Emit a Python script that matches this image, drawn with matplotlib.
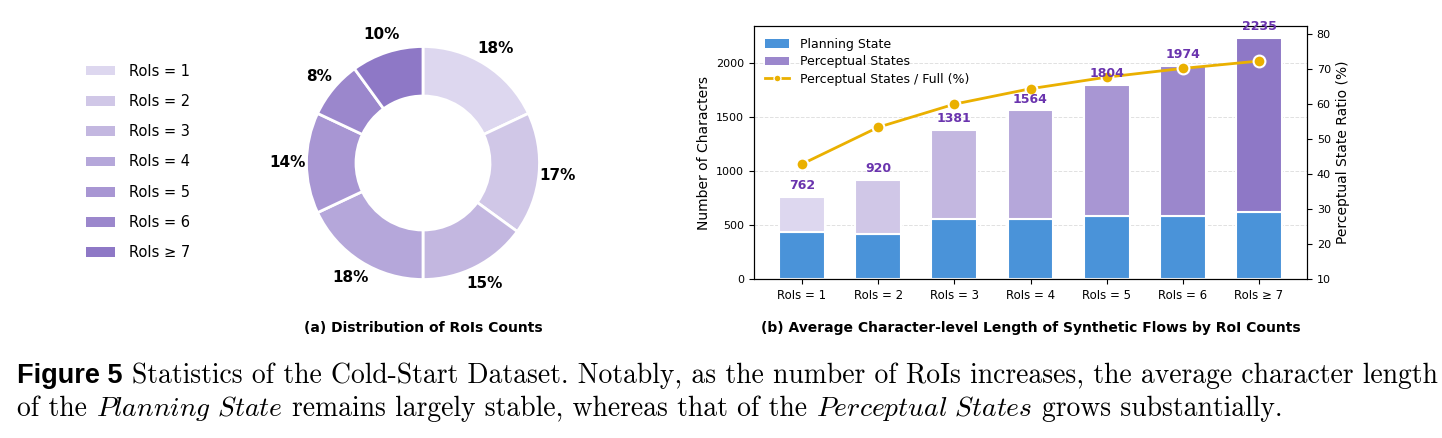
import matplotlib
matplotlib.use("Agg")
import matplotlib.pyplot as plt
from matplotlib.patches import Patch
from matplotlib.lines import Line2D
import numpy as np

# ---------------- data ----------------
roi_labels = ["RoIs = 1", "RoIs = 2", "RoIs = 3", "RoIs = 4", "RoIs = 5", "RoIs = 6", "RoIs \u2265 7"]
roi_share = [18, 17, 15, 18, 14, 8, 10]
planning_chars = [435, 422, 558, 555, 583, 589, 626]
total_chars = [762, 920, 1381, 1564, 1804, 1974, 2235]
perceptual_ratio = [42.8, 53.3, 59.9, 64.3, 67.6, 70.1, 72.2]

purples = ["#DDD7EF", "#D0C7E7", "#C3B7E0", "#B5A7DA", "#A896D3", "#9B87CC", "#8E78C6"]
blue = "#4A93D9"
gold = "#EAB000"
label_purple = "#6A34AE"

W, H = 1442, 438
fig = plt.figure(figsize=(W / 100, H / 100), dpi=100)
plt.rcParams["font.family"] = ["DejaVu Sans"]

# ---------------- donut ----------------
cx, cy, R = 423, 163, 116.5
axp = fig.add_axes([(cx - R) / W, (H - cy - R) / H, 2 * R / W, 2 * R / H])
wedges, _, autotexts = axp.pie(
    roi_share, colors=purples, startangle=90, counterclock=False,
    wedgeprops=dict(width=0.425, edgecolor="white", linewidth=2),
    autopct=lambda p: f"{p:.0f}%", pctdistance=1.16,
    textprops=dict(fontsize=11, fontweight="bold", color="black"))
for w in wedges:
    w.set_clip_on(False)
axp.set_xlim(-1, 1)
axp.set_ylim(-1, 1)
axp.axis("off")

legend_patches = [Patch(facecolor=c, edgecolor="none") for c in purples]
fig.legend(legend_patches, roi_labels, loc="center left", bbox_to_anchor=(0.0505, 1 - 162 / H),
           frameon=False, fontsize=10.5, handlelength=2.0, handleheight=0.65,
           handletextpad=0.95, labelspacing=1.05)

fig.text(cx / W, 1 - 328 / H, "(a) Distribution of RoIs Counts", ha="center", va="center",
         fontsize=10, fontweight="bold")

# ---------------- bars ----------------
axl, axr, axt, axb = 754, 1307, 26, 279
ax = fig.add_axes([axl / W, (H - axb) / H, (axr - axl) / W, (axb - axt) / H])
x = np.arange(len(roi_labels))
planning = np.array(planning_chars)
totals = np.array(total_chars)
ax.bar(x, planning, width=0.6, color=blue, edgecolor="white", linewidth=1.5, zorder=2)
ax.bar(x, totals - planning, bottom=planning, width=0.6, color=purples,
       edgecolor="white", linewidth=1.5, zorder=2)
ax.set_ylim(0, 2347)
ax.set_yticks([0, 500, 1000, 1500, 2000])
ax.set_xticks(x)
ax.set_xticklabels(roi_labels, fontsize=8.5)
ax.tick_params(axis="y", labelsize=8)
ax.set_ylabel("Number of Characters", fontsize=10)
ax.yaxis.grid(True, linestyle="--", color="#cccccc", alpha=0.6, linewidth=0.7)
ax.set_axisbelow(True)

ax2 = ax.twinx()
ax2.plot(x, perceptual_ratio, color=gold, linewidth=2, marker="o", markersize=8.5,
         markeredgecolor="white", markeredgewidth=1.5, zorder=3)
ax2.set_ylim(10, 82.2)
ax2.set_yticks([10, 20, 30, 40, 50, 60, 70, 80])
ax2.tick_params(axis="y", labelsize=8)
ax2.set_ylabel("Perceptual State Ratio (%)", fontsize=10)

# total labels drawn above the ratio line
for xi, t in zip(x, totals):
    ax2.annotate(f"{t}", xy=(xi, t), xycoords=ax.transData, xytext=(0, 3.5),
                 textcoords="offset points", ha="center", va="bottom",
                 fontsize=9, fontweight="bold", color=label_purple, zorder=5)

handles = [Patch(facecolor=blue, edgecolor="none"),
           Patch(facecolor="#9B87CC", edgecolor="none"),
           Line2D([0], [0], color=gold, linewidth=2, marker="o", markersize=5,
                  markeredgecolor="white", markeredgewidth=1)]
ax.legend(handles, ["Planning State", "Perceptual States", "Perceptual States / Full (%)"],
          loc="upper left", bbox_to_anchor=(0.0, 0.997), frameon=False, fontsize=9,
          handlelength=1.9, handletextpad=0.85, labelspacing=0.34)

fig.text((axl + axr) / 2 / W, 1 - 328 / H,
         "(b) Average Character-level Length of Synthetic Flows by RoI Counts",
         ha="center", va="center", fontsize=10, fontweight="bold")

# ---------------- caption ----------------
plt.rcParams["mathtext.fontset"] = "cm"
renderer = fig.canvas.get_renderer()
serif = dict(family=["cmr10", "DejaVu Serif"])
boldsans = dict(family=["Liberation Sans", "DejaVu Sans"], fontweight="bold")


def width_px(txt, size, props):
    t = fig.text(0, 0, txt, fontsize=size, **props)
    w = t.get_window_extent(renderer).width
    t.remove()
    return w


line1_rest = "Statistics of the Cold-Start Dataset. Notably, as the number of RoIs increases, the average character length"
base = 10.0
w_rest = width_px(line1_rest, base, serif)
size = base * (1436 - 132) / w_rest
bsize = size * 0.98

fig.text(17 / W, 1 - 383 / H, "Figure 5", fontsize=bsize, va="baseline", ha="left", **boldsans)
fig.text(132 / W, 1 - 383 / H, line1_rest, fontsize=size, va="baseline", ha="left", **serif)

space = width_px("a a", size, serif) - width_px("aa", size, serif)
segments = [("of the", serif),
            (r"$\mathit{Planning\ State}$", {}),
            ("remains largely stable, whereas that of the", serif),
            (r"$\mathit{Perceptual\ States}$", {}),
            ("grows substantially.", serif)]
xpos = 17.0
for txt, props in segments:
    t = fig.text(xpos / W, 1 - 415.7 / H, txt, fontsize=size, va="baseline", ha="left", **props)
    bb = t.get_window_extent(renderer)
    xpos = bb.x1 + space

fig.savefig("out.png", dpi=100)
